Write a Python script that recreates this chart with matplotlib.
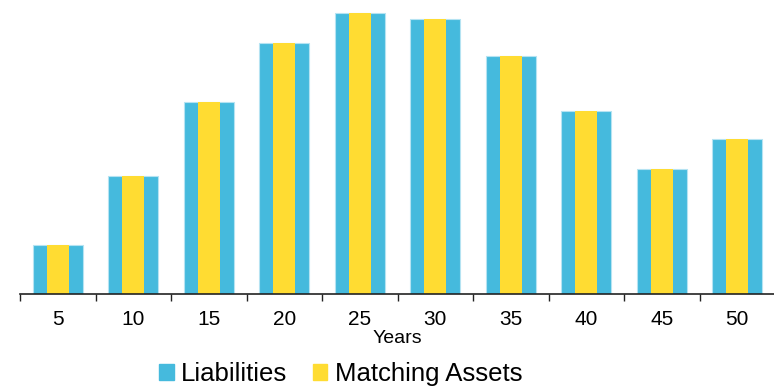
import numpy as np
import matplotlib.pyplot as plt
from matplotlib.patches import Patch

plt.rcParams['font.family'] = ['Liberation Sans', 'DejaVu Sans']

# cash flow profile by maturity bucket
years = ['5', '10', '15', '20', '25', '30', '35', '40', '45', '50']
liabilities = [49, 118, 192, 251, 281, 275, 238, 183, 125, 155]
matching_assets = [49, 118, 192, 251, 281, 275, 238, 183, 125, 155]

blue = '#45BADD'
yellow = '#FFDC32'

fig = plt.figure(figsize=(7.74, 3.89), dpi=100)
ax = fig.add_axes([20 / 774, 1 - 294 / 389, 755 / 774, 284 / 389])

x = np.arange(len(years))
ax.bar(x, liabilities, width=0.66, color=blue, edgecolor='#B5E3F2', linewidth=0.8)
ax.bar(x, matching_assets, width=0.29, color=yellow, linewidth=0)

ax.set_xlim(-0.5, len(years) - 0.5)
ax.set_ylim(0, 284)

for s in ['top', 'right', 'left']:
    ax.spines[s].set_visible(False)
ax.spines['bottom'].set_color('#222222')
ax.spines['bottom'].set_linewidth(1.2)

ax.set_yticks([])
ax.set_xticks(x)
ax.set_xticklabels(years, fontsize=15)
ax.tick_params(axis='x', which='major', length=0, pad=11.5)
ax.set_xticks(np.arange(len(years) + 1) - 0.5, minor=True)
ax.tick_params(axis='x', which='minor', length=5, width=1, color='#222222', direction='out')
ax.set_xlabel('Years', fontsize=14, labelpad=1)

handles = [Patch(color=blue, label='Liabilities'),
           Patch(color=yellow, label='Matching Assets')]
fig.legend(handles=handles, loc='center', bbox_to_anchor=(341 / 774, 1 - 374 / 389),
           ncol=2, frameon=False, fontsize=18.5, handlelength=0.55, handleheight=0.55,
           handletextpad=0.3, columnspacing=1.0, borderpad=0)

plt.savefig('out.png', dpi=100)
